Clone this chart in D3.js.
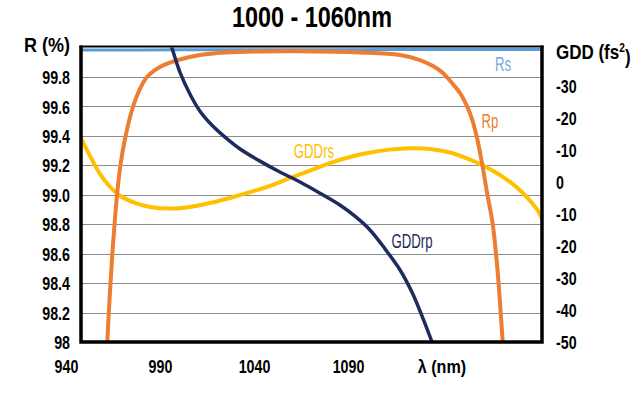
<!DOCTYPE html>
<html>
<head>
<meta charset="utf-8">
<script src="https://cdn.jsdelivr.net/npm/d3@7"></script>
<style>
  body { margin: 0; background: #fff; }
  text { font-family: "Liberation Sans", Arial, sans-serif; }
</style>
</head>
<body>
<script>
// wavelength (nm) / reflectance (%) / GDD (fs^2)
var rsWl = [948, 1000, 1060, 1120, 1193];
var rsR  = [99.983, 99.984, 99.985, 99.986, 99.987];

var rpWl = [962.0, 962.8, 963.7, 964.7, 965.9, 967.2, 969.0, 971.6, 975.6, 978.6, 983.1, 990.0,
            999.6, 1011.3, 1024.6, 1043.2, 1064.5, 1096.4, 1117.7, 1128.3, 1135.2, 1140.5, 1145.3,
            1149.6, 1152.8, 1155.4, 1158.4, 1161.0, 1164.0, 1166.9, 1168.7, 1170.1, 1171.2, 1172.3];
var rpR  = [98.0, 98.204, 98.401, 98.604, 98.808, 99.005, 99.202, 99.392, 99.596, 99.698, 99.8, 99.868,
            99.915, 99.949, 99.966, 99.973, 99.974, 99.966, 99.949, 99.915, 99.874, 99.827, 99.759,
            99.691, 99.616, 99.535, 99.399, 99.236, 99.012, 98.808, 98.604, 98.401, 98.204, 98.0];

var gddRsWl = [948.0, 952.8, 958.1, 963.4, 968.7, 976.7, 984.7, 995.3, 1006.0, 1016.6, 1027.2, 1037.9,
               1048.5, 1059.1, 1069.8, 1080.4, 1091.1, 1101.7, 1112.3, 1123.0, 1133.6, 1144.3, 1152.2,
               1160.2, 1168.2, 1176.2, 1182.6, 1187.9, 1191.1, 1193.7];
var gddRs   = [13.7, 8.1, 2.5, -1.5, -4.3, -6.5, -7.8, -8.3, -7.8, -6.6, -5.0, -3.2,
               -1.2, 1.2, 3.5, 5.9, 7.8, 9.2, 10.1, 10.5, 10.3, 9.2, 7.6,
               5.6, 3.1, 0.0, -3.2, -6.6, -9.1, -12.2];

var gddRpWl = [995.3, 996.4, 1000.6, 1006.0, 1011.3, 1017.7, 1024.6, 1032.6, 1043.2, 1053.8, 1064.5,
               1075.1, 1085.7, 1093.7, 1101.7, 1109.7, 1117.7, 1124.0, 1129.4, 1134.7];
var gddRp   = [43.7, 41.8, 34.3, 27.4, 22.1, 17.7, 14.0, 10.3, 6.5, 3.1, 0.0,
               -3.5, -7.2, -10.7, -15.0, -20.9, -27.5, -34.4, -41.9, -50.0];

var xTicks = [940, 990, 1040, 1090];
var rTicks = [98, 98.2, 98.4, 98.6, 98.8, 99.0, 99.2, 99.4, 99.6, 99.8];
var gTicks = [-50, -40, -30, -20, -10, 0, 10, 20, 30];

var svgWidth = 641, svgHeight = 399,
    pLeft = 81, pRight = 542, pTop = 47.5, pBottom = 342,
    narrow = 0.77;

var svg = d3.select("body").append("svg")
    .attr("width", svgWidth)
    .attr("height", svgHeight);

var x = d3.scaleLinear().domain([948, 1193.2]).range([pLeft, pRight]);
var y = d3.scaleLinear().domain([98, 100]).range([pBottom, pTop]);
var y2 = d3.scaleLinear().domain([-50, 42]).range([pBottom, pTop]);

// squeeze text horizontally to get a condensed face
function squeeze(sel, k) {
  sel.each(function() {
    var t = d3.select(this), px = +t.attr("x") || 0;
    t.attr("x", px / k).attr("transform", "scale(" + k + ",1)");
  });
}

svg.append("defs").append("clipPath").attr("id", "plot")
  .append("rect")
    .attr("x", pLeft).attr("y", pTop)
    .attr("width", pRight - pLeft).attr("height", pBottom - pTop);

// grid
svg.append("g").selectAll("line")
    .data(rTicks.slice(1))
  .enter().append("line")
    .attr("x1", pLeft).attr("x2", pRight)
    .attr("y1", function(d) { return Math.round(y(d)) + 0.5; })
    .attr("y2", function(d) { return Math.round(y(d)) + 0.5; })
    .attr("stroke", "#8c8c8c")
    .attr("stroke-width", 1.2);

// left axis labels
var ya = svg.append("g")
    .attr("transform", "translate(" + (pLeft - 11) + ",0)")
    .call(d3.axisLeft(y).tickValues(rTicks).tickSize(0)
      .tickFormat(function(d) { return d === 98 ? "98" : d.toFixed(1); }));
ya.select(".domain").remove();
ya.selectAll("text").attr("x", 0).attr("dy", "0.36em")
    .attr("font-size", 18.5).attr("font-weight", "bold").attr("fill", "#000")
    .call(squeeze, narrow);

// right axis labels (minus signs as in the source)
var y2a = svg.append("g")
    .attr("transform", "translate(" + (pRight + 14) + ",0)")
    .call(d3.axisRight(y2).tickValues(gTicks).tickSize(0)
      .tickFormat(function(d) { return d === 0 ? "0" : "-" + Math.abs(d); }));
y2a.select(".domain").remove();
y2a.selectAll("text").attr("x", 0).attr("dy", "0.36em")
    .attr("font-size", 18.5).attr("font-weight", "bold").attr("fill", "#000")
    .call(squeeze, narrow);

// x axis labels
var xa = svg.append("g")
    .attr("transform", "translate(0," + (pBottom + 24) + ")")
    .call(d3.axisBottom(x).tickValues(xTicks).tickSize(0).tickFormat(d3.format("d")));
xa.select(".domain").remove();
xa.selectAll("text").attr("y", 0).attr("dy", "0.36em")
    .attr("font-size", 18.5).attr("font-weight", "bold").attr("fill", "#000")
    .call(squeeze, narrow);

svg.append("text")
    .attr("x", x(1140)).attr("y", pBottom + 24).attr("dy", "0.36em")
    .attr("text-anchor", "middle")
    .attr("font-size", 19).attr("font-weight", "bold")
    .text("λ (nm)")
    .call(squeeze, 0.85);

// curves
var lines = svg.append("g").attr("clip-path", "url(#plot)");

function drawLine(xs, ys, scale, color, w) {
  var pts = xs.map(function(d, i) { return [d, ys[i]]; });
  lines.append("path")
    .datum(pts)
    .attr("fill", "none")
    .attr("stroke", color)
    .attr("stroke-width", w)
    .attr("stroke-linejoin", "round")
    .attr("d", d3.line()
      .x(function(d) { return x(d[0]); })
      .y(function(d) { return scale(d[1]); })
      .curve(d3.curveCatmullRom.alpha(0.5)));
}

drawLine(rsWl, rsR, y, "#5b9bd5", 3);
drawLine(gddRsWl, gddRs, y2, "#ffc000", 4);
drawLine(rpWl, rpR, y, "#ed7d31", 4);
drawLine(gddRpWl, gddRp, y2, "#1f2b5e", 3.5);

// plot frame
svg.append("line").attr("x1", pLeft - 1.5).attr("x2", pRight + 1.5)
    .attr("y1", pTop - 1).attr("y2", pTop - 1)
    .attr("stroke", "#000").attr("stroke-width", 2);
svg.append("path")
    .attr("d", "M" + pLeft + "," + (pTop - 2) + "V" + pBottom + "H" + pRight + "V" + (pTop - 2))
    .attr("fill", "none").attr("stroke", "#000").attr("stroke-width", 3.5);

// series labels
var labels = [
  { t: "Rs", x: 503, y: 64, c: "#7ea6d8" },
  { t: "Rp", x: 490, y: 121, c: "#ed7d31" },
  { t: "GDDrs", x: 314, y: 151, c: "#ffc000" },
  { t: "GDDrp", x: 412, y: 241, c: "#1f2b5e" }
];
svg.append("g").selectAll("text")
    .data(labels)
  .enter().append("text")
    .attr("x", function(d) { return d.x; })
    .attr("y", function(d) { return d.y; })
    .attr("dy", "0.36em")
    .attr("text-anchor", "middle")
    .attr("font-size", 20)
    .attr("fill", function(d) { return d.c; })
    .text(function(d) { return d.t; })
    .call(squeeze, 0.66);

// titles
svg.append("text")
    .attr("x", 312).attr("y", 16).attr("dy", "0.36em")
    .attr("text-anchor", "middle")
    .attr("font-size", 30).attr("font-weight", "bold")
    .text("1000 - 1060nm")
    .call(squeeze, 0.78);

svg.append("text")
    .attr("x", 70).attr("y", 45).attr("dy", "0.36em")
    .attr("text-anchor", "end")
    .attr("font-size", 20).attr("font-weight", "bold")
    .text("R (%)")
    .call(squeeze, 0.9);

var gl = svg.append("text")
    .attr("x", 556).attr("y", 52).attr("dy", "0.36em")
    .attr("font-size", 20).attr("font-weight", "bold");
gl.append("tspan").text("GDD (fs");
gl.append("tspan").attr("font-size", 12).attr("dy", "-0.6em").text("2");
gl.append("tspan").attr("dy", "0.6em").text(")");
gl.call(squeeze, 0.85);
</script>
</body>
</html>
